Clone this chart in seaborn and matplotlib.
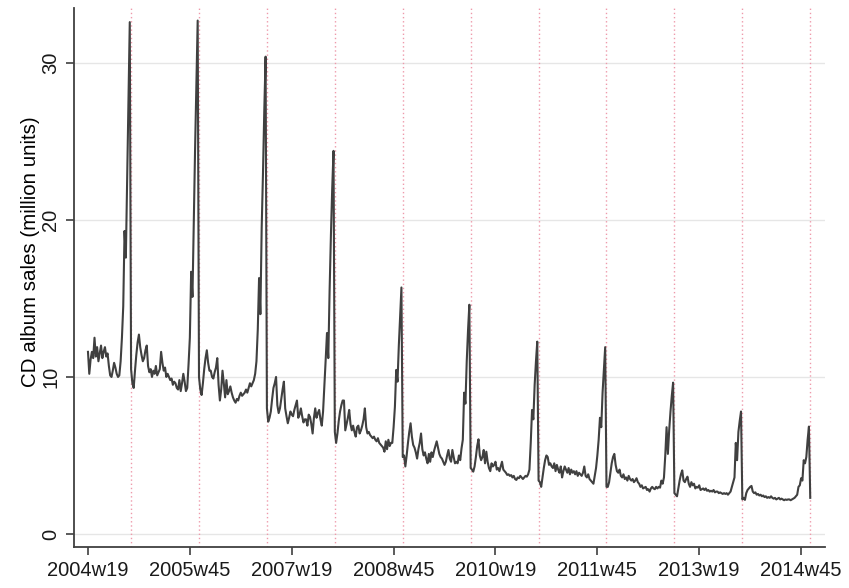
import numpy as np
import pandas as pd
import matplotlib
matplotlib.use("Agg")
import matplotlib.pyplot as plt
import seaborn as sns

# Weekly CD album sales (million units), Stata weekly calendar (52 weeks / year)
sales_2004 = [11.6, 10.2, 11.1, 11.6, 11.2, 12.5, 11.3, 11.9, 11.0, 11.5,
              12.0, 11.2, 11.6, 11.9, 11.3, 11.5, 10.7, 10.1, 10.0, 10.4,
              10.9, 10.6, 10.2, 10.0, 10.1,
              11.0, 12.5, 14.5, 19.3, 17.6, 22.5, 27.5, 32.6, 10.5]  # weeks 19-52
sales_2005 = [9.6, 9.3, 10.4, 11.4, 12.2, 12.7, 11.9, 11.4, 11.0, 11.2,
              11.7, 12.0, 10.7, 10.3, 10.5, 10.0, 10.4, 10.2, 10.7, 10.1,
              10.3, 10.5, 11.6, 10.9, 10.4, 10.6, 10.0, 10.2, 10.0, 9.8,
              9.9, 9.5, 9.7, 9.6, 9.3, 9.2, 9.8, 9.1, 9.6, 10.2,
              9.7, 9.1, 9.3, 10.8, 12.5, 16.7, 15.1, 20.0, 24.5, 28.6,
              32.7, 10.0]
sales_2006 = [9.2, 8.85, 9.6, 10.5, 11.2, 11.7, 10.9, 10.4, 10.4, 10.0,
              9.9, 10.3, 10.6, 11.2, 9.5, 8.5, 9.2, 10.4, 9.6, 8.7,
              9.8, 8.9, 9.1, 9.4, 9.0, 8.7, 8.5, 8.36, 8.6, 8.5,
              8.8, 9.0, 8.8, 8.9, 9.0, 9.2, 9.0, 9.3, 9.6, 9.4,
              9.6, 9.8, 10.2, 11.0, 13.0, 16.3, 14.0, 19.5, 23.0, 27.0,
              30.4, 8.0]
sales_2007 = [7.15, 7.4, 7.8, 8.6, 9.3, 9.6, 10.0, 8.2, 7.7, 8.0,
              8.6, 9.2, 9.7, 8.0, 7.5, 7.05, 7.4, 7.8, 7.6, 7.5,
              7.9, 8.2, 8.5, 7.4, 7.6, 8.0, 7.5, 7.1, 7.3, 7.3,
              6.9, 7.6, 7.45, 7.0, 6.4, 7.4, 8.0, 7.4, 7.7, 7.9,
              7.3, 6.9, 7.8, 9.4, 11.1, 12.8, 11.2, 15.5, 19.0, 22.0,
              24.4, 6.5]
sales_2008 = [5.8, 6.4, 7.2, 7.8, 8.2, 8.5, 8.5, 6.6, 7.0, 7.4,
              7.9, 7.0, 6.6, 6.9, 6.5, 6.2, 6.8, 6.9, 6.4, 6.6,
              6.9, 7.3, 8.0, 6.8, 6.4, 6.5, 6.3, 6.2, 6.1, 6.2,
              6.0, 5.9, 6.1, 5.8, 5.7, 5.6, 5.5, 5.24, 5.9, 5.4,
              6.0, 5.6, 5.8, 5.8, 6.8, 8.1, 10.45, 9.7, 12.0, 13.8,
              15.7, 4.9]
sales_2009 = [5.0, 4.3, 5.0, 5.8, 6.5, 7.05, 6.2, 5.67, 5.5, 5.2,
              4.8, 5.4, 5.8, 6.4, 5.4, 5.0, 5.2, 4.8, 4.5, 5.1,
              4.6, 5.2, 4.9, 5.3, 5.6, 5.9, 5.5, 5.1, 4.9, 4.8,
              4.6, 4.4, 4.6, 5.0, 5.35, 4.8, 4.6, 5.35, 4.9, 4.5,
              4.6, 4.5, 5.0, 4.7, 5.45, 6.0, 9.0, 8.3, 11.0, 13.0,
              14.6, 4.2]
sales_2010 = [4.1, 3.97, 4.3, 4.9, 5.6, 6.03, 5.0, 4.7, 4.9, 5.35,
              4.5, 5.24, 4.6, 4.2, 4.0, 4.5, 4.3, 4.4, 4.6, 4.1,
              4.2, 4.0, 4.3, 4.6, 4.1, 4.0, 3.9, 3.76, 3.8, 3.7,
              3.75, 3.6, 3.7, 3.5, 3.44, 3.6, 3.55, 3.7, 3.6, 3.5,
              3.6, 3.7, 3.65, 3.8, 4.1, 5.8, 7.9, 7.3, 9.5, 11.0,
              12.25, 3.4]
sales_2011 = [3.3, 3.0, 3.6, 4.2, 4.7, 5.0, 4.9, 4.4, 4.5, 4.3,
              4.2, 4.5, 4.0, 4.4, 4.1, 3.9, 4.3, 3.6, 4.0, 4.3,
              4.1, 3.9, 4.2, 3.8, 4.1, 3.9, 4.0, 3.8, 4.0, 3.7,
              3.9, 3.8, 3.7, 3.9, 4.3, 3.7, 3.6, 3.8, 3.5, 3.4,
              3.3, 3.2, 3.7, 4.2, 5.0, 6.0, 7.4, 6.8, 9.0, 10.5,
              11.9, 3.0]
sales_2012 = [3.0, 3.3, 3.9, 4.5, 4.9, 5.1, 4.4, 4.0, 3.9, 4.1,
              3.7, 3.6, 3.8, 3.5, 3.6, 3.4, 3.7, 3.5, 3.4, 3.5,
              3.3, 3.4, 3.55, 3.3, 3.2, 3.0, 3.1, 2.9, 2.95, 3.0,
              2.8, 2.85, 2.7, 2.9, 3.0, 2.9, 2.85, 3.0, 2.9, 3.0,
              2.95, 3.4, 3.2, 3.6, 5.0, 6.8, 5.1, 6.6, 7.8, 8.8,
              9.64, 2.6]
sales_2013 = [2.5, 2.4, 2.9, 3.4, 3.8, 4.05, 3.4, 3.3, 3.5, 3.65,
              3.2, 3.0, 3.3, 3.1, 3.2, 2.9, 3.0, 2.95, 3.1, 2.8,
              2.85, 2.9, 2.8, 2.9, 2.75, 2.8, 2.7, 2.75, 2.7, 2.8,
              2.65, 2.7, 2.7, 2.6, 2.65, 2.6, 2.55, 2.6, 2.55, 2.6,
              2.5, 2.6, 2.7, 3.0, 3.3, 3.6, 5.8, 4.7, 6.5, 7.2,
              7.8, 2.2]
sales_2014 = [2.3, 2.17, 2.6, 2.8, 2.9, 3.0, 3.06, 2.7, 2.6, 2.65,
              2.5, 2.55, 2.45, 2.5, 2.4, 2.45, 2.35, 2.4, 2.3, 2.35,
              2.3, 2.4, 2.3, 2.25, 2.3, 2.2, 2.25, 2.3, 2.2, 2.25,
              2.2, 2.15, 2.2, 2.17, 2.2, 2.2, 2.15, 2.2, 2.25, 2.3,
              2.4, 2.5, 3.0, 3.1, 3.55, 3.4, 4.7, 4.5, 4.9, 6.0,
              6.84, 2.3]

years = [2004, 2005, 2006, 2007, 2008, 2009, 2010, 2011, 2012, 2013, 2014]
first_week = 19
tick_labels = ["2004w19", "2005w45", "2007w19", "2008w45",
               "2010w19", "2011w45", "2013w19", "2014w45"]
year_marker_week = 52
y_ticks = [0, 10, 20, 30]
y_label = "CD album sales (million units)"

series = [sales_2004, sales_2005, sales_2006, sales_2007, sales_2008, sales_2009,
          sales_2010, sales_2011, sales_2012, sales_2013, sales_2014]


def week_index(year, week):
    return (year - 2004) * 52 + (week - first_week)


rows = []
for yr, vals in zip(years, series):
    start = first_week if yr == 2004 else 1
    for k, v in enumerate(vals):
        rows.append({"t": week_index(yr, start + k), "sales": v})
df = pd.DataFrame(rows)


def parse_label(s):
    y, w = s.split("w")
    return week_index(int(y), int(w))


tick_pos = [parse_label(s) for s in tick_labels]

FONT = ["Liberation Sans", "DejaVu Sans"]
W, H = 849, 588
fig = plt.figure(figsize=(W / 100, H / 100), dpi=100)
ax = fig.add_axes([74 / W, 1 - 547 / H, (825 - 74) / W, (547 - 8) / H])

for g in y_ticks:
    ax.axhline(g, color="#e6e6e6", lw=1.0, zorder=0)
for yr in years:
    ax.axvline(week_index(yr, year_marker_week), color="#ee9aab",
               lw=1.0, ls=(0, (1, 2)), zorder=1)

sns.lineplot(data=df, x="t", y="sales", ax=ax, color="#404040", lw=1.5,
             zorder=3, estimator=None)

ax.set_xlim(-10.7, 564.3)
ax.set_ylim(-0.83, 33.5)
ax.set_xticks(tick_pos)
ax.set_xticklabels(tick_labels, fontsize=14.5, family=FONT)
ax.set_yticks(y_ticks)
ax.set_yticklabels([str(v) for v in y_ticks], fontsize=14.5, rotation=90, va="center",
                   family=FONT)
ax.set_xlabel("")
ax.set_ylabel(y_label, fontsize=14.8, family=FONT)
ax.yaxis.label.set_va("center")
ax.yaxis.set_label_coords((30 - 74) / 751, (547 - 252) / 539)
for s in ["top", "right"]:
    ax.spines[s].set_visible(False)
for s in ["left", "bottom"]:
    ax.spines[s].set_color("#404040")
    ax.spines[s].set_linewidth(1.3)
ax.tick_params(axis="both", direction="out", length=6, width=1.2, color="#404040",
               labelcolor="#1a1a1a", pad=4)
ax.set_facecolor("white")
fig.patch.set_facecolor("white")

fig.savefig("out.png", dpi=100)
